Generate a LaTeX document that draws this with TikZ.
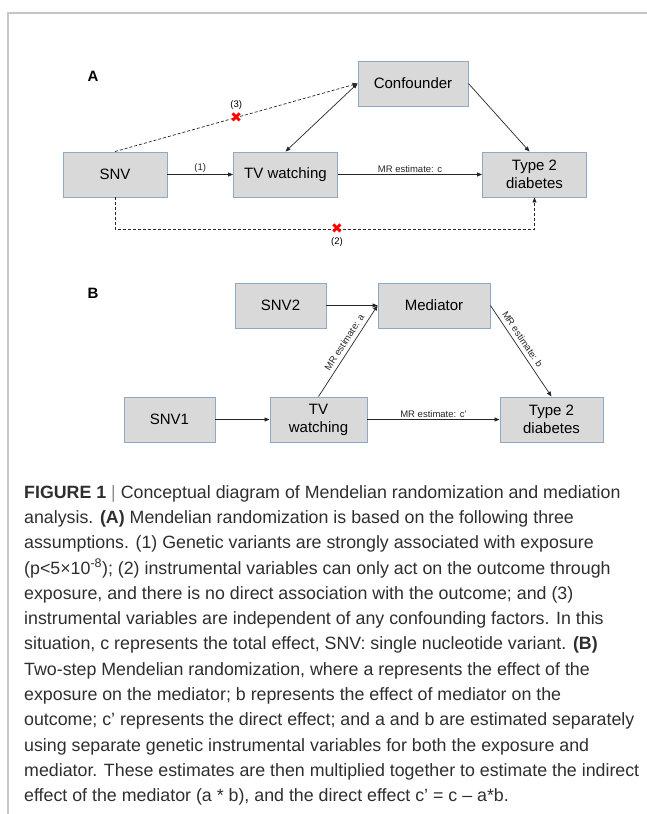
\documentclass[tikz,border=0pt]{standalone}
\usepackage{fontspec}
\setmainfont{Liberation Sans}
\newfontfamily\symfont{DejaVu Sans}
\usetikzlibrary{arrows.meta,positioning}
\definecolor{boxgray}{HTML}{D9D9D9}
\definecolor{boxline}{HTML}{8FA8C4}
\definecolor{framegray}{HTML}{C6C6C6}
\definecolor{capgray}{HTML}{2E2E2E}
\begin{document}
\begin{tikzpicture}[x=1pt,y=-1pt,
  box/.style={draw=boxline, fill=boxgray, line width=0.9pt, minimum width=#1, minimum height=45pt, inner sep=1pt, align=center, font=\fontsize{15}{18}\selectfont},
  box/.default=104pt,
  arr/.style={-{Triangle[length=5pt,width=4pt]}, line width=0.7pt, black!85},
  biarr/.style={{Triangle[length=5pt,width=4pt]}-{Triangle[length=5pt,width=4pt]}, line width=0.7pt, black!85},
  dasharr/.style={arr, dash pattern=on 3pt off 2pt},
  tag/.style={font=\fontsize{9.5}{11}\selectfont, inner sep=2pt},
  slopetag/.style={tag, sloped, above, inner sep=4pt},
  cross/.style={text=red, font=\symfont\fontsize{14}{14}\selectfont, inner sep=0pt},
  panel/.style={font=\fontsize{15}{15}\selectfont\bfseries}]
\useasboundingbox (0,0) rectangle (647,814);
\draw[framegray, line width=1.5pt] (647,13) -- (8,13) -- (8,814);

\node[panel] (labA) at (93,76) {A};
\node[box] (snv) at (115,174.5) {SNV};
\node[box] (tva) at (285.5,174.5) {TV watching};
\node[box] (t2da) at (534.5,174.5) {Type 2\\diabetes};
\node[box=110pt] (conf) at (413,83.5) {Confounder};

\draw[arr] (snv) -- node[tag, above] {(1)} (tva);
\draw[arr] (tva) -- node[tag, above] {MR estimate: c} (t2da);
\draw[arr] (conf.east) -- ([xshift=-5pt]t2da.north);
\draw[biarr] (tva.north) -- (conf.west);
\draw[dasharr] (snv.north) -- node[cross] (x3) {✖} (conf.west);
\node[tag, above=1pt of x3] (n3) {(3)};
\draw[dasharr] (snv.south) -- ++(0,32) coordinate (dip) -| (t2da.south);
\node[cross] (x2) at (337,229) {✖};
\node[tag, below=1pt of x2] (n2) {(2)};

\node[panel] (labB) at (93,293) {B};
\node[box=91pt] (snv2) at (280.5,305.5) {SNV2};
\node[box=112pt] (med) at (434,305.5) {Mediator};
\node[box=91pt] (snv1) at (169.5,419.5) {SNV1};
\node[box=97pt] (tvb) at (318.5,419.5) {TV\\watching};
\node[box=103pt] (t2db) at (551.5,419.5) {Type 2\\diabetes};

\draw[arr] (snv2) -- (med.west);
\draw[arr] (snv1) -- (tvb);
\draw[arr] (tvb) -- node[tag, above] {MR estimate: c’} (t2db);
\draw[arr] (tvb.north) -- node[slopetag, pos=0.55] {MR estimate: a} (med.west);
\draw[arr] (med.east) -- node[slopetag, pos=0.42] {MR estimate: b} (t2db.north);

\node[anchor=north west, align=left, inner sep=0pt, text=capgray, font=\fontsize{17.8}{25.3}\selectfont] (cap) at (24,485) {%
{\bfseries FIGURE 1} {\color{black!45}|} Conceptual diagram of Mendelian randomization and mediation\\
analysis. {\bfseries (A)} Mendelian randomization is based on the following three\\
assumptions. (1) Genetic variants are strongly associated with exposure\\
(p<5×10\textsuperscript{-8}); (2) instrumental variables can only act on the outcome through\\
exposure, and there is no direct association with the outcome; and (3)\\
instrumental variables are independent of any confounding factors. In this\\
situation, c represents the total effect, SNV: single nucleotide variant. {\bfseries (B)}\\
Two-step Mendelian randomization, where a represents the effect of the\\
exposure on the mediator; b represents the effect of mediator on the\\
outcome; c’ represents the direct effect; and a and b are estimated separately\\
using separate genetic instrumental variables for both the exposure and\\
mediator. These estimates are then multiplied together to estimate the indirect\\
effect of the mediator (a * b), and the direct effect c’ = c – a*b.};
\end{tikzpicture}
\end{document}
